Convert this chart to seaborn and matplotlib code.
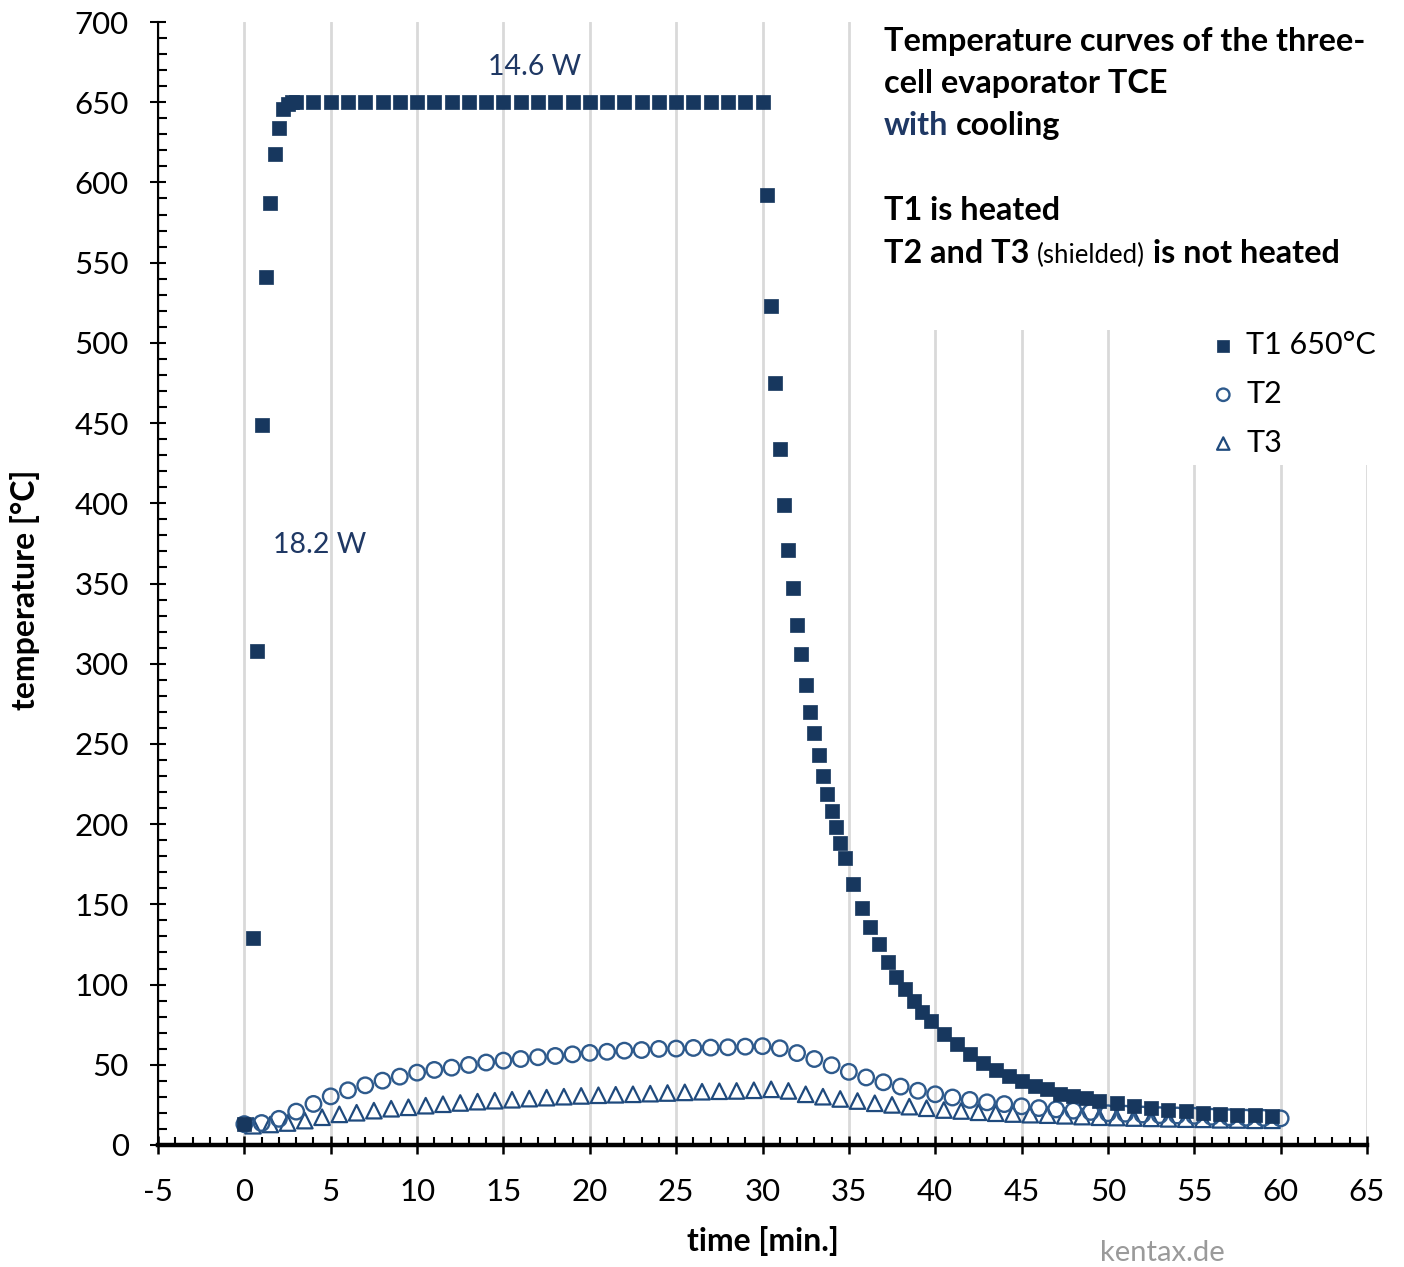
import matplotlib
matplotlib.use("Agg")
import matplotlib.pyplot as plt
import seaborn as sns
import pandas as pd
from matplotlib.patches import Rectangle
from matplotlib.ticker import MultipleLocator

# ---------------- data ----------------
t1_time = [0, 0.5, 0.75, 1.0, 1.25, 1.5, 1.75, 2.0, 2.25, 2.5, 2.75,
           3, 4, 5, 6, 7, 8, 9, 10, 11, 12, 13, 14, 15, 16, 17, 18, 19, 20,
           21, 22, 23, 24, 25, 26, 27, 28, 29, 30,
           30.25, 30.5, 30.75, 31.0, 31.25, 31.5, 31.75, 32.0, 32.25, 32.5,
           32.75, 33.0, 33.25, 33.5, 33.75, 34.0, 34.25, 34.5, 34.75,
           35.25, 35.75, 36.25, 36.75, 37.25, 37.75, 38.25, 38.75, 39.25, 39.75,
           40.5, 41.25, 42.0, 42.75, 43.5, 44.25, 45.0, 45.75, 46.5, 47.25,
           48.0, 48.75, 49.5,
           50.5, 51.5, 52.5, 53.5, 54.5, 55.5, 56.5, 57.5, 58.5, 59.5]
t1_temp = [13, 129, 308, 449, 541, 587, 618, 634, 646, 649, 650,
           650, 650, 650, 650, 650, 650, 650, 650, 650, 650, 650, 650, 650, 650,
           650, 650, 650, 650, 650, 650, 650, 650, 650, 650, 650, 650, 650, 650,
           592, 523, 475, 434, 399, 371, 347, 324, 306, 287,
           270, 257, 243, 230, 219, 208, 198, 188, 179,
           163, 148, 136, 125, 114, 105, 97, 90, 83, 77,
           69, 63, 57, 51, 47, 43, 40, 37, 35, 32,
           30.5, 29, 27.5,
           26, 24.3, 23.1, 22.0, 21.0, 20.1, 19.3, 18.9, 18.5, 18.3]

t2_time = [0, 1, 2, 3, 4, 5, 6, 7, 8, 9, 10, 11, 12, 13, 14, 15, 16, 17, 18, 19,
           20, 21, 22, 23, 24, 25, 26, 27, 28, 29, 30, 31, 32, 33, 34, 35, 36, 37,
           38, 39, 40, 41, 42, 43, 44, 45, 46, 47, 48, 49, 50, 51, 52, 53, 54, 55,
           56, 57, 58, 59, 60]
t2_temp = [13, 13.7, 16.3, 20.8, 25.6, 30.3, 34.1, 37.2, 40.1, 42.6, 45.1, 46.8,
           48.2, 49.9, 51.4, 52.6, 53.6, 54.7, 55.5, 56.5, 57.4, 58.1, 58.8, 59.2,
           59.9, 60.1, 60.5, 60.7, 60.9, 61.3, 61.6, 60.3, 57.3, 53.6, 49.7, 45.6,
           42.1, 39.1, 36.4, 33.8, 31.6, 29.6, 28.1, 26.6, 25.5, 24.1, 23.0, 22.2,
           21.4, 20.6, 19.8, 19.5, 19.0, 18.6, 18.4, 18.2, 17.6, 17.3, 17.0, 16.9,
           16.6]

t3_time = [0.5, 1.5, 2.5, 3.5, 4.5, 5.5, 6.5, 7.5, 8.5, 9.5, 10.5, 11.5, 12.5,
           13.5, 14.5, 15.5, 16.5, 17.5, 18.5, 19.5, 20.5, 21.5, 22.5, 23.5, 24.5,
           25.5, 26.5, 27.5, 28.5, 29.5, 30.5, 31.5, 32.5, 33.5, 34.5, 35.5, 36.5,
           37.5, 38.5, 39.5, 40.5, 41.5, 42.5, 43.5, 44.5, 45.5, 46.5, 47.5, 48.5,
           49.5, 50.5, 51.5, 52.5, 53.5, 54.5, 55.5, 56.5, 57.5, 58.5, 59.5]
t3_temp = [12.0, 12.8, 13.7, 15.2, 17.3, 19.1, 20.1, 21.4, 22.6, 23.5, 24.5, 25.4,
           26.2, 27.0, 27.6, 28.2, 28.9, 29.5, 30.1, 30.6, 31.0, 31.3, 31.6, 32.0,
           32.4, 32.8, 33.2, 33.5, 33.7, 34.1, 34.7, 33.7, 31.6, 30.1, 28.7, 27.4,
           26.0, 25.0, 23.9, 22.9, 21.8, 21.2, 20.4, 19.8, 19.3, 18.9, 18.6, 18.2,
           17.7, 17.3, 17.1, 16.8, 16.6, 16.3, 16.1, 16.0, 15.7, 15.6, 15.4, 15.4]

series_labels = ["T1 650°C", "T2", "T3"]
x_ticks = [-5, 0, 5, 10, 15, 20, 25, 30, 35, 40, 45, 50, 55, 60, 65]
y_ticks = [0, 50, 100, 150, 200, 250, 300, 350, 400, 450, 500, 550, 600, 650, 700]

# ---------------- style ----------------
sns.set_theme(style="white")
plt.rcParams['font.family'] = ['Lato', 'DejaVu Sans']
plt.rcParams['axes.unicode_minus'] = False

C1 = "#17375E"
C2 = "#2E5A8C"
C3 = "#1F4A7D"
BLUE_TXT = "#1F3864"

W, H = 1404, 1267
fig = plt.figure(figsize=(W / 100, H / 100), dpi=100)
L, R, T, B = 158, 1367, 22, 1145
ax = fig.add_axes([L / W, 1 - B / H, (R - L) / W, (B - T) / H])

df1 = pd.DataFrame({"time": t1_time, "temp": t1_temp})
df2 = pd.DataFrame({"time": t2_time, "temp": t2_temp})
df3 = pd.DataFrame({"time": t3_time, "temp": t3_temp})

sns.scatterplot(data=df3, x="time", y="temp", marker="^", s=125,
                facecolors="none", edgecolor=C3, linewidth=1.6, ax=ax,
                label=series_labels[2], zorder=3)
sns.scatterplot(data=df2, x="time", y="temp", marker="o", s=125,
                facecolors="none", edgecolor=C2, linewidth=1.7, ax=ax,
                label=series_labels[1], zorder=3.5)
sns.scatterplot(data=df1, x="time", y="temp", marker="s", s=110,
                color=C1, edgecolor=C1, linewidth=0.5, ax=ax,
                label=series_labels[0], zorder=4)

ax.set_xlim(-5, 65)
ax.set_ylim(0, 700)
ax.set_xticks(x_ticks)
ax.set_yticks(y_ticks)
ax.xaxis.set_minor_locator(MultipleLocator(1))
ax.yaxis.set_minor_locator(MultipleLocator(10))

ax.set_axisbelow(True)
ax.xaxis.grid(True, which="major", color="#D9D9D9", linewidth=2)
ax.yaxis.grid(False)

for s in ["top", "right"]:
    ax.spines[s].set_visible(False)
ax.spines["left"].set_linewidth(1.5)
ax.spines["left"].set_color("black")
ax.spines["bottom"].set_linewidth(3.2)
ax.spines["bottom"].set_color("black")

ax.tick_params(which="both", bottom=True, left=True, top=False, right=False,
               color="black")
ax.tick_params(axis="y", which="major", direction="inout", length=12, width=1.5,
               labelsize=22.5, pad=15, labelcolor="black")
ax.tick_params(axis="y", which="minor", direction="in", length=6.5, width=1.5)
ax.tick_params(axis="x", which="major", direction="inout", length=13, width=1.8,
               labelsize=22.5, pad=17, labelcolor="black")
ax.tick_params(axis="x", which="minor", direction="in", length=6, width=1.5)

ax.set_xlabel("time [min.]", fontsize=23, fontweight="bold", color="black")
ax.set_ylabel("temperature [°C]", fontsize=23, fontweight="bold", color="black")
ax.xaxis.set_label_coords((763 - L) / (R - L), (B - 1241) / (B - T))
ax.yaxis.set_label_coords((25 - L) / (R - L), (B - 590) / (B - T))
ax.xaxis.label.set_va("center")
ax.yaxis.label.set_va("center")

# white boxes behind the title text and legend (hide grid lines there)
ax.add_patch(Rectangle((36.2, 508), 30, 200, facecolor="white",
                       edgecolor="none", zorder=1, clip_on=False))
ax.add_patch(Rectangle((54.7, 424), 12, 100, facecolor="white",
                       edgecolor="none", zorder=1, clip_on=False))

# annotations
ax.text(16.8, 672, "14.6 W", fontsize=20.5, color=BLUE_TXT, ha="center", va="center")
ax.text(4.35, 374, "18.2 W", fontsize=20.5, color=BLUE_TXT, ha="center", va="center")

# legend
order = {lab: i for i, lab in enumerate(series_labels)}
handles, labels = ax.get_legend_handles_labels()
pairs = sorted(zip(handles, labels), key=lambda p: order[p[1]])
leg = ax.legend([p[0] for p in pairs], [p[1] for p in pairs],
                loc="upper left", bbox_to_anchor=(1208 / W, 1 - 331 / H),
                bbox_transform=fig.transFigure, frameon=False, fontsize=22,
                markerscale=0.8, handletextpad=0.25, labelspacing=0.68,
                handlelength=1.0, borderpad=0, borderaxespad=0)
for txt in leg.get_texts():
    txt.set_color("black")

# title block with mixed styles
renderer = fig.canvas.get_renderer()


def text_width(s, **kw):
    t = fig.text(0, 0, s, **kw)
    w = t.get_window_extent(renderer).width
    t.remove()
    return w


def put_line(pieces, x_px, y_base_px):
    x = x_px
    for s, kw in pieces:
        if s == " ":
            x += text_width("a a", **kw) - text_width("aa", **kw)
            continue
        t = fig.text(x / W, 1 - y_base_px / H, s, ha="left", va="baseline", **kw)
        x += t.get_window_extent(renderer).width


bold = dict(fontsize=23.3, fontweight="bold", color="black")
bold_blue = dict(fontsize=23.3, fontweight="bold", color=BLUE_TXT)
small = dict(fontsize=18.5, fontweight="normal", color="black")

put_line([("Temperature curves of the three-", bold)], 884, 51)
put_line([("cell evaporator TCE", bold)], 884, 93)
put_line([("with", bold_blue), (" ", bold), ("cooling", bold)], 884, 135)
put_line([("T1 is heated", bold)], 884, 220)
put_line([("T2 and T3", bold), (" ", bold), ("(shielded)", small), (" ", bold),
          ("is not heated", bold)], 884, 263)

fig.text(1162 / W, 1 - 1253 / H, "kentax.de", fontsize=21, color="#9A9A9A",
         ha="center", va="center")

fig.savefig("out.png", dpi=100)
